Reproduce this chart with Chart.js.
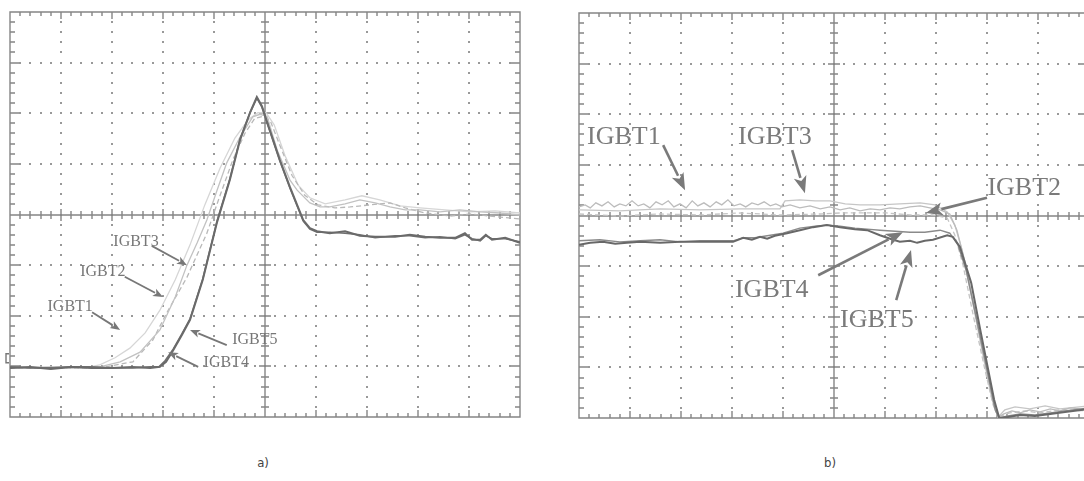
<!DOCTYPE html>
<html>
<head>
<meta charset="utf-8">
<script src="https://cdn.jsdelivr.net/npm/chart.js@4.4.1/dist/chart.umd.min.js"></script>
<style>
  html, body { margin: 0; padding: 0; background: #fff; overflow: hidden; width: 1084px; height: 481px; }
  canvas { position: absolute; top: 0; }
  #scopeA { left: 0; }
  #scopeB { left: 560px; }
  .cap { position: absolute; top: 455px; font: 13px "DejaVu Sans Condensed", "DejaVu Sans", sans-serif; color: #444; transform: translateX(-50%); }
</style>
</head>
<body>
<canvas id="scopeA" width="540" height="430"></canvas>
<canvas id="scopeB" width="540" height="430"></canvas>
<div class="cap" style="left:263px">a)</div>
<div class="cap" style="left:830px">b)</div>
<script>
// Screen is 10 x 8 divisions; all traces are in division units.

// ---- a) turn-on ----
const aIGBT4x = [0,0.4,0.8,1.2,1.6,2.0,2.4,2.75,2.94,3.06,3.2,3.37,3.53,3.78,4.06,4.31,4.51,4.71,4.84,4.94,5.04,5.29,5.49,5.75,5.88,6.02,6.27,6.57,6.86,7.16,7.55,7.84,8.14,8.43,8.73,8.92,9.06,9.22,9.33,9.45,9.71,10];
const aIGBT4y = [0.97,0.99,0.95,0.99,0.97,0.97,0.99,0.97,0.99,1.09,1.32,1.62,1.92,2.71,3.85,4.68,5.47,6.02,6.32,6.14,5.83,5.08,4.54,3.89,3.73,3.67,3.63,3.67,3.58,3.56,3.56,3.60,3.56,3.54,3.54,3.63,3.50,3.50,3.60,3.50,3.54,3.44];

const aIGBT5x = [0,0.4,0.8,1.2,1.6,2.0,2.4,2.75,2.92,3.04,3.2,3.37,3.53,3.78,4.06,4.31,4.51,4.71,4.84,4.94,5.04,5.29,5.49,5.75,5.88,6.02,6.27,6.57,6.86,7.16,7.55,7.84,8.14,8.43,8.73,8.92,9.06,9.22,9.33,9.45,9.71,10];
const aIGBT5y = [0.99,0.97,0.97,0.99,0.99,0.97,0.97,0.99,0.99,1.11,1.34,1.64,1.94,2.73,3.87,4.70,5.49,6.02,6.30,6.12,5.81,5.06,4.52,3.87,3.71,3.65,3.65,3.63,3.60,3.54,3.58,3.58,3.54,3.56,3.52,3.60,3.52,3.48,3.58,3.52,3.52,3.46];

const aIGBT3x = [0,0.78,1.76,2.16,2.55,2.94,3.24,3.47,3.67,3.86,4.06,4.25,4.51,4.76,4.90,5.04,5.24,5.49,5.63,5.88,6.08,6.27,6.57,6.86,7.16,7.45,7.75,8.04,8.43,8.82,9.22,9.61,10];
const aIGBT3y = [0.97,0.99,0.99,1.09,1.28,1.72,2.37,3.00,3.44,3.89,4.48,5.02,5.53,5.93,5.98,5.94,5.27,4.68,4.48,4.23,4.15,4.15,4.21,4.29,4.23,4.15,4.09,4.09,4.05,4.09,4.05,4.03,3.99];

const aIGBT2x = [0,1.76,2.41,2.80,3.08,3.47,3.86,4.12,4.37,4.61,4.80,4.96,5.10,5.29,5.53,5.78,6.04,6.37,6.67,7.06,7.45,7.75,8.14,8.63,9.02,9.41,10];
const aIGBT2y = [0.97,0.97,1.09,1.52,2.07,2.76,3.63,4.38,5.08,5.61,5.90,5.94,5.86,5.37,4.77,4.38,4.19,4.13,4.15,4.19,4.23,4.13,4.03,3.97,4.01,3.97,3.91];

const aIGBT1x = [0,1.47,1.76,2.06,2.35,2.65,2.94,3.24,3.53,3.82,4.12,4.41,4.67,4.86,5.02,5.18,5.39,5.65,5.88,6.18,6.57,6.90,7.25,7.65,8.04,8.53,9.02,9.51,10];
const aIGBT1y = [0.97,0.97,1.03,1.17,1.36,1.66,2.11,2.71,3.40,4.19,4.92,5.51,5.87,6.01,6.01,5.77,5.17,4.58,4.33,4.21,4.29,4.37,4.29,4.17,4.13,4.09,4.05,4.07,4.03];

// ---- b) turn-off ----
const bIGBT1x = [0,0.12,0.22,0.33,0.45,0.57,0.69,0.80,0.92,1.04,1.16,1.27,1.39,1.51,1.63,1.75,1.86,1.98,2.10,2.22,2.33,2.45,2.57,2.69,2.80,2.92,3.04,3.16,3.27,3.39,3.51,3.63,3.75,3.86,3.98,4.14,4.33,4.53,4.73,4.92,5.12,5.31,5.51,5.71,5.90,6.10,6.29,6.49,6.69,6.88,7.08,7.27,7.41,7.57,7.76,7.96,8.12,8.22,8.33,8.49,8.65,8.84,9.04,9.24,9.43,9.63,10];
const bIGBT1y = [4.17,4.21,4.15,4.25,4.19,4.27,4.17,4.23,4.19,4.29,4.19,4.23,4.15,4.27,4.21,4.29,4.17,4.23,4.15,4.29,4.19,4.25,4.17,4.27,4.21,4.31,4.19,4.23,4.17,4.25,4.21,4.27,4.19,4.23,4.17,4.21,4.15,4.19,4.13,4.17,4.11,4.15,4.09,4.13,4.11,4.15,4.13,4.17,4.19,4.15,4.11,4.03,3.71,3.08,2.13,1.15,0.36,0.02,0.08,0.14,0.10,0.16,0.12,0.18,0.14,0.20,0.16];

const bIGBT3x = [0,0.80,1.59,2.37,3.16,3.94,4.04,4.33,4.63,4.92,5.22,5.51,5.90,6.29,6.69,6.98,7.22,7.37,7.51,7.71,7.92,8.10,8.22,8.35,8.55,8.84,9.14,9.43,10];
const bIGBT3y = [4.11,4.09,4.13,4.11,4.13,4.13,4.29,4.31,4.29,4.29,4.23,4.21,4.21,4.23,4.25,4.21,4.07,3.81,3.32,2.33,1.24,0.36,0.02,0.16,0.22,0.18,0.24,0.18,0.24];

const bIGBT2x = [0,0.80,1.59,2.37,3.16,3.94,4.73,5.12,5.51,6.04,6.49,6.94,7.22,7.37,7.53,7.73,7.96,8.12,8.22,8.45,8.75,9.04,9.43,10];
const bIGBT2y = [4.03,3.99,4.03,4.01,4.05,4.01,4.03,4.05,4.05,4.05,4.01,4.01,3.95,3.61,3.02,2.03,0.95,0.26,0.02,0.10,0.14,0.10,0.16,0.14];

const bIGBT4x = [0,0.41,0.80,1.20,1.59,1.98,2.37,3.02,3.22,3.45,3.69,4.00,4.33,4.63,4.86,5.12,5.41,5.65,5.90,6.20,6.49,6.78,7.08,7.27,7.43,7.59,7.78,8.00,8.16,8.24,8.41,8.65,8.94,9.24,9.53,10];
const bIGBT4y = [3.50,3.52,3.48,3.50,3.52,3.48,3.50,3.50,3.56,3.56,3.60,3.65,3.75,3.79,3.81,3.79,3.75,3.73,3.71,3.69,3.67,3.67,3.71,3.65,3.42,2.92,2.03,0.95,0.16,0,0.04,0.08,0.06,0.10,0.14,0.20];

const bIGBT5x = [0,0.22,0.47,0.71,0.94,1.20,1.59,1.98,2.37,3.02,3.22,3.39,3.55,3.69,3.84,4.08,4.33,4.59,4.86,5.12,5.41,5.65,5.90,6.10,6.29,6.49,6.63,6.78,6.94,7.22,7.33,7.47,7.69,7.88,8.14,8.24,8.41,8.65,8.94,9.24,9.53,10];
const bIGBT5y = [3.42,3.46,3.48,3.44,3.46,3.48,3.46,3.48,3.48,3.48,3.56,3.52,3.58,3.54,3.60,3.65,3.71,3.77,3.81,3.77,3.73,3.71,3.61,3.54,3.48,3.50,3.46,3.50,3.52,3.61,3.58,3.38,2.67,1.68,0.36,0,0.02,0.06,0.04,0.08,0.12,0.18];

// Annotation labels: text anchor and arrow (tail -> tip), in divisions
const labelsA = [
  { text: 'IGBT3', at: [2.47, 3.46], from: [2.78, 3.38], to: [3.47, 3.00] },
  { text: 'IGBT2', at: [1.82, 2.86], from: [2.25, 2.77], to: [3.00, 2.37] },
  { text: 'IGBT1', at: [1.18, 2.17], from: [1.61, 2.07], to: [2.16, 1.72] },
  { text: 'IGBT5', at: [4.80, 1.52], from: [4.25, 1.42], to: [3.53, 1.72] },
  { text: 'IGBT4', at: [4.24, 1.07], from: [3.69, 0.99], to: [3.10, 1.28] }
];
const labelsB = [
  { text: 'IGBT1', at: [0.88, 5.55], from: [1.65, 5.39], to: [2.08, 4.50] },
  { text: 'IGBT3', at: [3.84, 5.55], from: [4.18, 5.29], to: [4.43, 4.44] },
  { text: 'IGBT2', at: [8.73, 4.54], from: [8.00, 4.35], to: [6.80, 4.05] },
  { text: 'IGBT4', at: [3.78, 2.53], from: [4.69, 2.82], to: [6.35, 3.67] },
  { text: 'IGBT5', at: [5.84, 1.94], from: [6.22, 2.33], to: [6.51, 3.32] }
];

function pts(xs, ys) {
  const n = Math.min(xs.length, ys.length);
  const out = [];
  for (let i = 0; i < n; i++) out.push({ x: xs[i], y: ys[i] });
  return out;
}

// Oscilloscope graticule: dotted divisions, centre cross and ruler ticks
const graticule = {
  id: 'graticule',
  beforeDatasetsDraw(chart) {
    const ctx = chart.ctx;
    const area = chart.chartArea;
    const sx = chart.scales.x, sy = chart.scales.y;
    const px = v => Math.round(sx.getPixelForValue(v));
    const py = v => Math.round(sy.getPixelForValue(v));
    ctx.save();
    // dotted division lines
    ctx.fillStyle = '#999';
    for (let i = 1; i < 10; i++) {
      if (i === 5) continue;
      for (let j = 1; j < 40; j++) ctx.fillRect(px(i) - 1, py(j * 0.2) - 1, 2, 2);
    }
    for (let j = 1; j < 8; j++) {
      if (j === 4) continue;
      for (let i = 1; i < 50; i++) ctx.fillRect(px(i * 0.2) - 1, py(j) - 1, 2, 2);
    }
    // centre cross, ruler ticks and frame, as one path
    const cx = px(5), cy = py(4);
    ctx.strokeStyle = '#858585';
    ctx.lineWidth = 1.4;
    ctx.beginPath();
    ctx.moveTo(area.left, cy); ctx.lineTo(area.right, cy);
    ctx.moveTo(cx, area.top); ctx.lineTo(cx, area.bottom);
    for (let i = 1; i < 50; i++) {
      const tx = px(i * 0.2), major = i % 5 === 0;
      const c = major ? 6 : 4, f = major ? 7 : 4;
      ctx.moveTo(tx, cy - c); ctx.lineTo(tx, cy + c);
      ctx.moveTo(tx, area.top); ctx.lineTo(tx, area.top + f);
      ctx.moveTo(tx, area.bottom); ctx.lineTo(tx, area.bottom - f);
    }
    for (let j = 1; j < 40; j++) {
      const ty = py(j * 0.2), major = j % 5 === 0;
      const c = major ? 6 : 4, f = major ? 9 : 5;
      ctx.moveTo(cx - c, ty); ctx.lineTo(cx + c, ty);
      ctx.moveTo(area.left, ty); ctx.lineTo(area.left + f, ty);
      ctx.moveTo(area.right, ty); ctx.lineTo(area.right - f, ty);
    }
    ctx.rect(area.left, area.top, area.right - area.left, area.bottom - area.top);
    ctx.stroke();
    const mk = chart.options.plugins.graticule && chart.options.plugins.graticule.marker;
    if (mk) {
      const my = sy.getPixelForValue(mk);
      ctx.strokeStyle = '#777';
      ctx.beginPath();
      ctx.moveTo(area.left - 1, my - 5); ctx.lineTo(area.left - 4, my - 5);
      ctx.lineTo(area.left - 4, my + 4); ctx.lineTo(area.left - 1, my + 4);
      ctx.stroke();
    }
    ctx.restore();
  }
};

// Trace labels with arrows
const traceLabels = {
  id: 'traceLabels',
  afterDatasetsDraw(chart, args, opts) {
    const ctx = chart.ctx;
    const sx = chart.scales.x, sy = chart.scales.y;
    ctx.save();
    ctx.fillStyle = opts.color;
    ctx.strokeStyle = opts.color;
    ctx.font = opts.font;
    ctx.textAlign = 'center';
    ctx.textBaseline = 'middle';
    ctx.lineWidth = opts.lineWidth;
    for (const n of opts.items) {
      ctx.fillText(n.text, sx.getPixelForValue(n.at[0]), sy.getPixelForValue(n.at[1]));
      const x1 = sx.getPixelForValue(n.from[0]), y1 = sy.getPixelForValue(n.from[1]);
      const x2 = sx.getPixelForValue(n.to[0]), y2 = sy.getPixelForValue(n.to[1]);
      const ang = Math.atan2(y2 - y1, x2 - x1);
      const hl = opts.head, hw = opts.headWidth;
      const bx = x2 - hl * Math.cos(ang), by = y2 - hl * Math.sin(ang);
      ctx.beginPath();
      ctx.moveTo(x1, y1);
      ctx.lineTo(bx + Math.cos(ang), by + Math.sin(ang));
      ctx.stroke();
      ctx.beginPath();
      ctx.moveTo(x2, y2);
      ctx.lineTo(bx + hw * Math.sin(ang), by - hw * Math.cos(ang));
      ctx.lineTo(x2 - hl * 0.75 * Math.cos(ang), y2 - hl * 0.75 * Math.sin(ang));
      ctx.lineTo(bx - hw * Math.sin(ang), by + hw * Math.cos(ang));
      ctx.closePath();
      ctx.fill();
    }
    ctx.restore();
  }
};

function trace(label, xs, ys, color, width, dash) {
  return {
    label, data: pts(xs, ys), borderColor: color, borderWidth: width,
    borderDash: dash || [], pointRadius: 0, tension: 0, fill: false
  };
}

function scopeOptions(padding, notes, marker) {
  return {
    responsive: false,
    animation: false,
    layout: { padding },
    scales: {
      x: { type: 'linear', min: 0, max: 10, display: false },
      y: { type: 'linear', min: 0, max: 8, display: false }
    },
    plugins: {
      legend: { display: false },
      tooltip: { enabled: false },
      graticule: { marker },
      traceLabels: notes
    }
  };
}

new Chart(document.getElementById('scopeA'), {
  type: 'line',
  data: {
    datasets: [
      trace('IGBT4', aIGBT4x, aIGBT4y, '#6a6a6a', 2),
      trace('IGBT5', aIGBT5x, aIGBT5y, '#707070', 1.6),
      trace('IGBT3', aIGBT3x, aIGBT3y, '#c2c2c2', 1.3),
      trace('IGBT2', aIGBT2x, aIGBT2y, '#b8b8b8', 1.3, [5, 3]),
      trace('IGBT1', aIGBT1x, aIGBT1y, '#d6d6d6', 1.3)
    ]
  },
  options: scopeOptions({ left: 10, top: 12, right: 20, bottom: 13 },
    { items: labelsA, font: '16px "Liberation Serif", serif', color: '#777', lineWidth: 1.8, head: 10, headWidth: 4 },
    1.15),
  plugins: [graticule, traceLabels]
});

new Chart(document.getElementById('scopeB'), {
  type: 'line',
  data: {
    datasets: [
      trace('IGBT5', bIGBT5x, bIGBT5y, '#686868', 2),
      trace('IGBT4', bIGBT4x, bIGBT4y, '#8a8a8a', 1.4),
      trace('IGBT1', bIGBT1x, bIGBT1y, '#bcbcbc', 1.3),
      trace('IGBT3', bIGBT3x, bIGBT3y, '#c6c6c6', 1.3),
      trace('IGBT2', bIGBT2x, bIGBT2y, '#c4c4c4', 1.3, [5, 3])
    ]
  },
  options: scopeOptions({ left: 19, top: 13, right: 11, bottom: 12 },
    { items: labelsB, font: '26px "Liberation Serif", serif', color: '#7a7a7a', lineWidth: 2.6, head: 17, headWidth: 6.5 },
    null),
  plugins: [graticule, traceLabels]
});
</script>
</body>
</html>
